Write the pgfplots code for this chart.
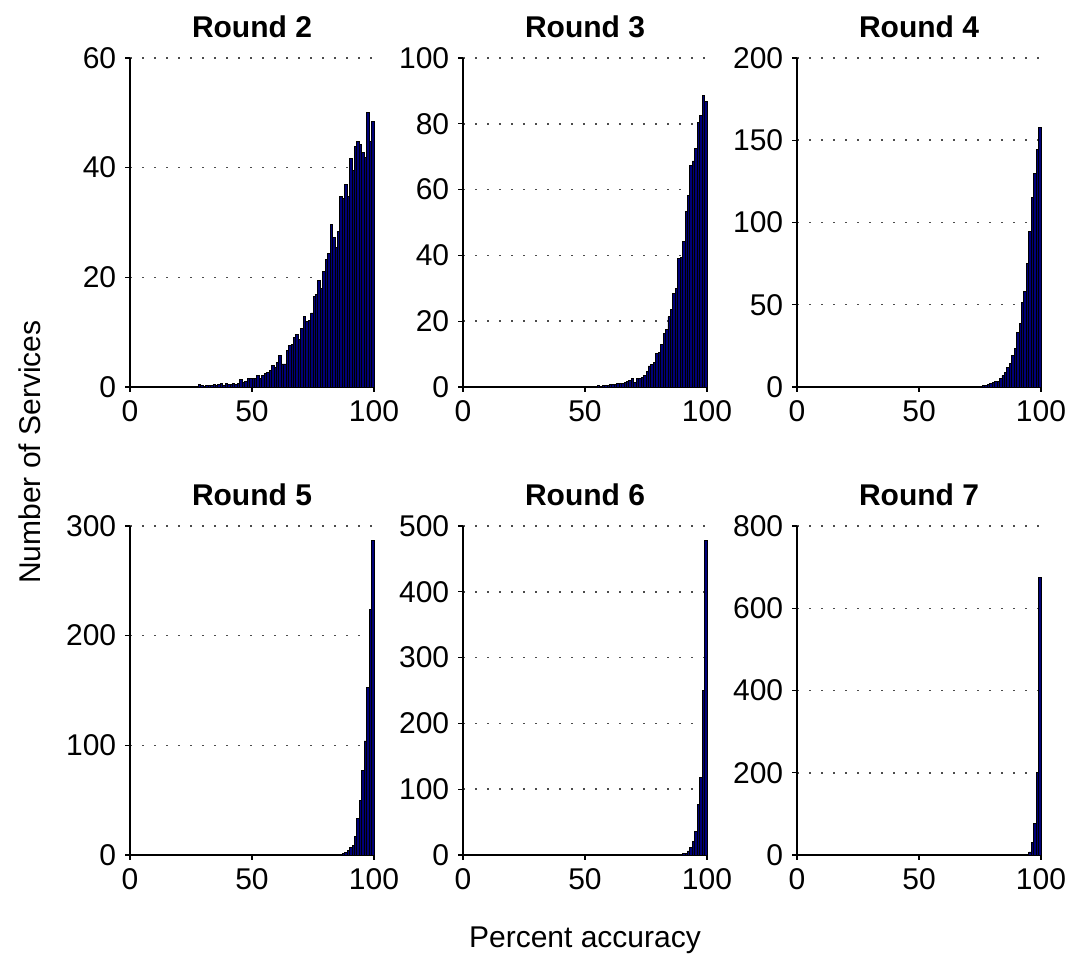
\documentclass[border=0pt]{standalone}
\usepackage{fontspec}
\setmainfont{Liberation Sans}
\usepackage{pgfplots}
\usepackage{pgfplotstable}
\pgfplotsset{compat=1.18}
\definecolor{barblue}{RGB}{0,0,120}

% histogram bins: x = left edge of 1% bin, last row closes the interval
\pgfplotstableread{
x y
26 0.1
27 0.1
28 0.5
29 0.2
30 0.1
31 0.2
32 0.3
33 0.2
34 0.4
35 0.3
36 0.5
37 0.6
38 0.3
39 0.7
40 0.4
41 0.5
42 0.6
43 0.5
44 0.7
45 1.3
46 0.8
47 1.0
48 1.5
49 1.6
50 1.5
51 1.5
52 2.1
53 1.5
54 2.1
55 2.4
56 2.7
57 3.0
58 3.9
59 3.6
60 4.5
61 5.8
62 4.2
63 4.2
64 6.6
65 7.6
66 7.7
67 9.1
68 9.5
69 8.7
70 10.7
71 12.8
72 11.9
73 12.2
74 13.5
75 16.5
76 16.8
77 19.4
78 17.9
79 21.1
80 23.3
81 24.3
82 29.6
83 27.2
84 25.5
85 28.4
86 34.7
87 34.3
88 37.0
89 34.8
90 41.6
91 39.5
92 43.9
93 44.8
94 44.2
95 42.8
96 41.8
97 50.1
98 44.8
99 48.4
100 0
}\rtwo

\pgfplotstableread{
x y
45 0.1
46 0.1
47 0.1
48 0.1
49 0.1
50 0.2
51 0.2
52 0.3
53 0.2
54 0.3
55 0.4
56 0.3
57 0.5
58 0.4
59 0.5
60 0.7
61 0.9
62 0.9
63 1.0
64 1.1
65 1.1
66 1.3
67 1.6
68 1.9
69 2.7
70 1.4
71 2.7
72 2.7
73 3.0
74 3.5
75 4.7
76 6.4
77 6.8
78 7.5
79 10.2
80 10.6
81 13.0
82 16.3
83 17.6
84 21.3
85 23.5
86 28.3
87 30.0
88 39.0
89 39.3
90 44.1
91 53.3
92 58.2
93 67.4
94 68.7
95 72.6
96 80.3
97 82.5
98 88.6
99 86.8
100 0
}\rthree

\pgfplotstableread{
x y
60 0.2
61 0.2
62 0.2
63 0.2
64 0.2
65 0.2
66 0.2
67 0.2
68 0.2
69 0.2
70 0.3
71 0.3
72 0.4
73 0.4
74 0.5
75 0.5
76 0.7
77 0.8
78 1.4
79 2.4
80 2.6
81 3.2
82 3.6
83 5.3
84 6.9
85 8.9
86 11.7
87 14.5
88 19.0
89 23.6
90 32.9
91 38.8
92 51.3
93 58.0
94 75.2
95 94.3
96 115.4
97 129.7
98 144.2
99 157.6
100 0
}\rfour

\pgfplotstableread{
x y
70 0.2
71 0.2
72 0.2
73 0.2
74 0.2
75 0.2
76 0.2
77 0.2
78 0.2
79 0.2
80 0.4
81 0.4
82 0.5
83 0.6
84 0.7
85 0.8
86 0.9
87 1.2
88 2.1
89 3.9
90 7.0
91 8.8
92 17.3
93 33.1
94 49.7
95 76.7
96 104.0
97 152.9
98 223.5
99 286.6
100 0
}\rfive

\pgfplotstableread{
x y
80 0.3
81 0.3
82 0.3
83 0.3
84 0.3
85 0.6
86 0.8
87 1.0
88 1.2
89 1.5
90 2.0
91 3.0
92 6.1
93 11.6
94 21.2
95 35.9
96 76.3
97 117.7
98 250.5
99 477.8
100 0
}\rsix

\pgfplotstableread{
x y
85 0.5
86 0.5
87 0.5
88 0.5
89 0.5
90 0.5
91 0.5
92 0.5
93 1.6
94 2.4
95 7.3
96 31.6
97 76.9
98 200.8
99 674.5
100 0
}\rseven

\pgfplotsset{
  panel/.style={
    scale only axis, width=97.6pt, height=131.6pt,
    xmin=0, xmax=100, ymin=0,
    xtick={0,50,100},
    axis lines*=left,
    axis line style={black, line width=0.5pt},
    tick align=outside, major tick length=2pt,
    tick style={black, line width=0.5pt},
    minor tick num=0,
    ymajorgrids,
    major grid style={black!70, line width=0.6pt, dash pattern=on 0.6pt off 4.2pt},
    tick label style={font=\fontsize{12}{14}\selectfont},
    /pgf/number format/assume math mode=true,
    title style={font=\bfseries\fontsize{12}{14}\selectfont},
    clip=false,
  },
  hist/.style={ybar interval, fill=barblue, draw=black, line width=0.35pt},
}

\begin{document}
\begin{tikzpicture}
\path (0,0) rectangle (431.2pt,385.6pt);

\begin{axis}[panel, at={(52pt,230.8pt)}, ymax=60, ytick={0,20,40,60}]
\addplot[hist] table {\rtwo};
\end{axis}

\begin{axis}[panel, at={(185.2pt,230.8pt)}, ymax=100, ytick={0,20,...,100}]
\addplot[hist] table {\rthree};
\end{axis}

\begin{axis}[panel, at={(318.8pt,230.8pt)}, ymax=200, ytick={0,50,...,200}]
\addplot[hist] table {\rfour};
\end{axis}

\begin{axis}[panel, at={(52pt,43.6pt)}, ymax=300, ytick={0,100,200,300}]
\addplot[hist] table {\rfive};
\end{axis}

\begin{axis}[panel, at={(185.2pt,43.6pt)}, ymax=500, ytick={0,100,...,500}]
\addplot[hist] table {\rsix};
\end{axis}

\begin{axis}[panel, at={(318.8pt,43.6pt)}, ymax=800, ytick={0,200,...,800}]
\addplot[hist] table {\rseven};
\end{axis}

% panel titles, 31px above each axis top
\foreach \cx/\cy/\t in {100.8/375/2, 234/375/3, 367.6/375/4,
                         100.8/187.6/5, 234/187.6/6, 367.6/187.6/7}
  \node[font=\bfseries\fontsize{12}{14}\selectfont] at (\cx pt,\cy pt) {Round \t};

\node[rotate=90, font=\fontsize{12}{14}\selectfont] at (12pt,204.8pt) {Number of Services};
\node[font=\fontsize{12}{14}\selectfont] at (234pt,9.6pt) {Percent accuracy};
\end{tikzpicture}
\end{document}
